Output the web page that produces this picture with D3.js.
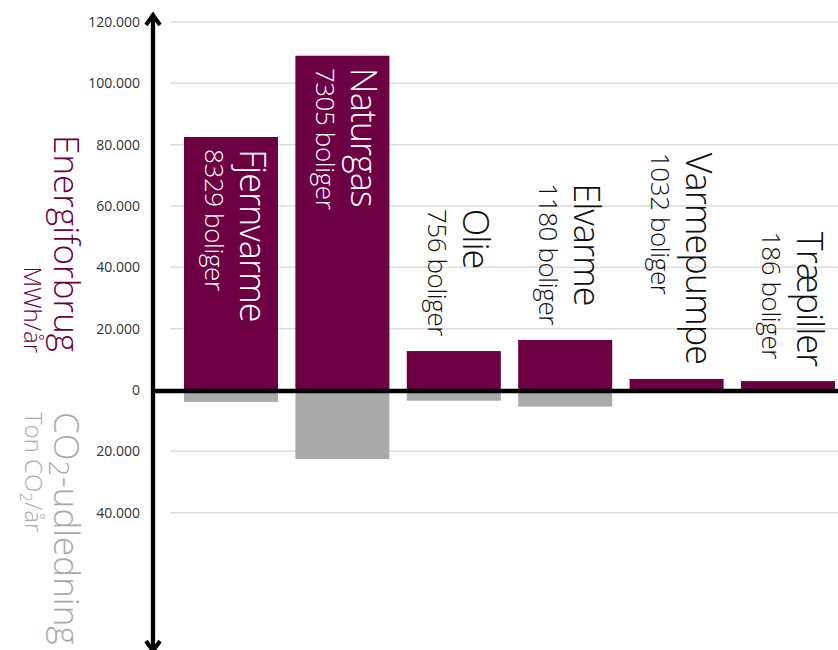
<!DOCTYPE html>
<html>
<head>
<meta charset="utf-8">
<script src="https://cdn.jsdelivr.net/npm/d3@7"></script>
<style>
  body { margin: 0; background: #fff; }
  text { font-family: "Open Sans", "Noto Sans", sans-serif; }
</style>
</head>
<body>
<svg id="chart" width="838" height="650"></svg>
<script>
// data
var categories = ["Fjernvarme", "Naturgas", "Olie", "Elvarme", "Varmepumpe", "Træpiller"];
var boliger = [8329, 7305, 756, 1180, 1032, 186];
var energi = [82500, 109000, 12700, 16300, 3600, 2900];   // MWh/år
var co2 = [3900, 22500, 3500, 5400, 300, 200];            // ton CO2/år
var upTicks = [0, 20000, 40000, 60000, 80000, 100000, 120000];
var downTicks = [20000, 40000];

var purple = "#6c0043";
var grey = "#aaaaaa";

var svg = d3.select("#chart");

var axisX = 153;
var y = d3.scaleLinear().domain([0, 120000]).range([390, 22]);
var x = d3.scaleBand()
    .domain(categories)
    .range([175.3, 843.7])
    .paddingInner(0.156)
    .paddingOuter(0.078);

var fmt = d3.formatLocale({decimal: ",", thousands: ".", grouping: [3], currency: ["", ""]}).format(",");

// gridlines + tick labels
var ticks = upTicks.map(function(v){ return {v: v, pos: y(v)}; })
    .concat(downTicks.map(function(v){ return {v: v, pos: y(-v)}; }));

svg.append("g").selectAll("line").data(ticks).enter().append("line")
    .attr("x1", 170).attr("x2", 838)
    .attr("y1", function(d){ return d.pos; })
    .attr("y2", function(d){ return d.pos; })
    .style("stroke", "#dddddd")
    .style("stroke-width", 1.5);

svg.append("g").selectAll("text").data(ticks).enter().append("text")
    .attr("x", 140)
    .attr("y", function(d){ return d.pos; })
    .attr("dy", "0.35em")
    .attr("text-anchor", "end")
    .style("font-size", "14px")
    .style("fill", "#333")
    .text(function(d){ return fmt(d.v); });

// bars
var idx = d3.range(categories.length);
svg.append("g").selectAll("rect").data(idx).enter().append("rect")
    .attr("x", function(i){ return x(categories[i]); })
    .attr("width", x.bandwidth())
    .attr("y", function(i){ return y(energi[i]); })
    .attr("height", function(i){ return y(0) - y(energi[i]); })
    .style("fill", purple);

svg.append("g").selectAll("rect").data(idx).enter().append("rect")
    .attr("x", function(i){ return x(categories[i]); })
    .attr("width", x.bandwidth())
    .attr("y", y(0))
    .attr("height", function(i){ return y(-co2[i]) - y(0); })
    .style("fill", grey);

// bar labels, rotated to read top-down
var labels = svg.append("g").selectAll("g").data(idx).enter().append("g");

labels.append("text")
    .attr("class", "main")
    .attr("y", -9)
    .style("font-size", "36px")
    .style("letter-spacing", "-1px")
    .style("font-weight", 300)
    .text(function(i){ return categories[i]; });

labels.append("text")
    .attr("class", "sub")
    .attr("y", 26)
    .style("font-size", "26px")
    .style("letter-spacing", "-0.4px")
    .style("font-weight", 300)
    .text(function(i){ return boliger[i] + " boliger"; });

labels.each(function(i){
    var g = d3.select(this);
    var len = Math.max(g.select(".main").node().getComputedTextLength(),
                       g.select(".sub").node().getComputedTextLength());
    var top = y(energi[i]);
    var inside = (y(0) - top) > len + 30;
    var start = inside ? top + 12 : top - 15 - len;
    var cx = x(categories[i]) + x.bandwidth() / 2;
    g.attr("transform", "translate(" + cx + "," + start + ") rotate(90)");
    g.selectAll("text").style("fill", inside ? "#fff" : "#111");
});

// zero line
svg.append("line")
    .attr("x1", axisX - 1).attr("x2", 838)
    .attr("y1", y(0) + 1).attr("y2", y(0) + 1)
    .style("stroke", "#000")
    .style("stroke-width", 4.5);

// vertical axis with arrows at both ends
svg.append("line")
    .attr("x1", axisX).attr("x2", axisX)
    .attr("y1", 14).attr("y2", 652)
    .style("stroke", "#000")
    .style("stroke-width", 4.3);

svg.append("path")
    .attr("d", "M" + (axisX - 7) + ",25 L" + axisX + ",15 L" + (axisX + 7) + ",25")
    .style("fill", "none")
    .style("stroke", "#000")
    .style("stroke-width", 4);

svg.append("path")
    .attr("d", "M" + (axisX - 7) + ",641 L" + axisX + ",651 L" + (axisX + 7) + ",641")
    .style("fill", "none")
    .style("stroke", "#000")
    .style("stroke-width", 4);

// axis titles
var t1 = svg.append("g").attr("transform", "translate(54,352) rotate(90)");
t1.append("text")
    .attr("text-anchor", "end")
    .style("font-size", "35px")
    .style("font-weight", 300)
    .style("fill", purple)
    .text("Energiforbrug");

var t2 = svg.append("g").attr("transform", "translate(24,353) rotate(90)");
t2.append("text")
    .attr("text-anchor", "end")
    .style("font-size", "24px")
    .style("font-weight", 300)
    .style("fill", purple)
    .text("MWh/år");

var t3 = svg.append("g").attr("transform", "translate(54,412) rotate(90)");
var t3t = t3.append("text")
    .style("font-size", "35px")
    .style("font-weight", 300)
    .style("fill", grey);
t3t.append("tspan").text("CO");
t3t.append("tspan").attr("dy", 5).style("font-size", "28px").text("2");
t3t.append("tspan").attr("dy", -5).text("-udledning");

var t4 = svg.append("g").attr("transform", "translate(25,412) rotate(90)");
var t4t = t4.append("text")
    .style("font-size", "24px")
    .style("font-weight", 300)
    .style("fill", grey);
t4t.append("tspan").text("Ton CO");
t4t.append("tspan").attr("dy", 5).style("font-size", "17px").text("2");
t4t.append("tspan").attr("dy", -5).text("/år");
</script>
</body>
</html>
